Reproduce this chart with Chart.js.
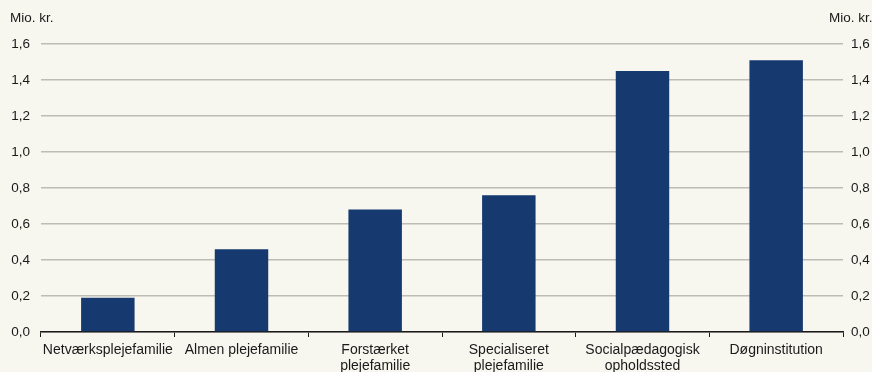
<!DOCTYPE html>
<html>
<head>
<meta charset="utf-8">
<script src="https://cdn.jsdelivr.net/npm/chart.js@4"></script>
<style>
  html, body { margin: 0; padding: 0; background: #f7f6ef; }
  #wrap { width: 872px; height: 372px; }
</style>
</head>
<body>
<div id="wrap"><canvas id="chart" width="872" height="372"></canvas></div>
<script>
// Udgift pr. anbringelse, mio. kr.
const categories = [
    'Netværksplejefamilie',
    'Almen plejefamilie',
    ['Forstærket', 'plejefamilie'],
    ['Specialiseret', 'plejefamilie'],
    ['Socialpædagogisk', 'opholdssted'],
    'Døgninstitution'
];
const values = [0.19, 0.46, 0.68, 0.76, 1.45, 1.51];
const yTicks = [0, 0.2, 0.4, 0.6, 0.8, 1.0, 1.2, 1.4, 1.6];
const unitLabel = 'Mio. kr.';

const FONT = 'Liberation Sans, Arial, sans-serif';
const textColor = '#1a1a1a';

const fmt = v => v.toFixed(1).replace('.', ',');

// background + unit labels above both axes
const decorations = {
    id: 'decorations',
    beforeDraw(chart) {
        const ctx = chart.ctx;
        ctx.save();
        ctx.fillStyle = '#f7f6ef';
        ctx.fillRect(0, 0, chart.width, chart.height);
        ctx.restore();
    },
    afterDraw(chart) {
        const ctx = chart.ctx;
        ctx.save();
        ctx.font = '13.5px ' + FONT;
        ctx.fillStyle = textColor;
        ctx.textBaseline = 'middle';
        ctx.textAlign = 'left';
        ctx.fillText(unitLabel, 10, 18);
        ctx.fillText(unitLabel, 829, 18);
        ctx.restore();
    }
};

const yScale = (position, width) => ({
    type: 'linear',
    position: position,
    min: 0,
    max: 1.6,
    afterBuildTicks: axis => { axis.ticks = yTicks.map(v => ({ value: v })); },
    afterFit: axis => { axis.width = width; },
    border: { display: false },
    grid: {
        display: position === 'left',
        drawOnChartArea: true,
        drawTicks: false,
        color: '#bdbcb6',
        lineWidth: 1.5
    },
    ticks: {
        padding: position === 'left' ? 11 : 8,
        color: textColor,
        font: { family: FONT, size: 13.5 },
        callback: v => fmt(v)
    }
});

new Chart(document.getElementById('chart'), {
    type: 'bar',
    data: {
        labels: categories,
        datasets: [{
            data: values,
            backgroundColor: '#163a70',
            borderWidth: 0,
            categoryPercentage: 1,
            barPercentage: 0.4
        }]
    },
    options: {
        responsive: false,
        animation: false,
        devicePixelRatio: 1,
        layout: { padding: { top: 44, left: 0, right: 0, bottom: 0 } },
        plugins: {
            legend: { display: false },
            tooltip: { enabled: false }
        },
        scales: {
            x: {
                offset: true,
                afterFit: axis => { axis.height = 40; },
                border: { display: true, color: '#1a1a1a', width: 1.5 },
                grid: {
                    offset: true,
                    drawOnChartArea: false,
                    drawTicks: true,
                    tickLength: 5,
                    color: '#1a1a1a',
                    lineWidth: 1
                },
                ticks: {
                    autoSkip: false,
                    maxRotation: 0,
                    minRotation: 0,
                    padding: 5,
                    color: textColor,
                    font: { family: FONT, size: 14, lineHeight: 1.15 }
                }
            },
            y: yScale('left', 41),
            y2: yScale('right', 29)
        }
    },
    plugins: [decorations]
});
</script>
</body>
</html>
